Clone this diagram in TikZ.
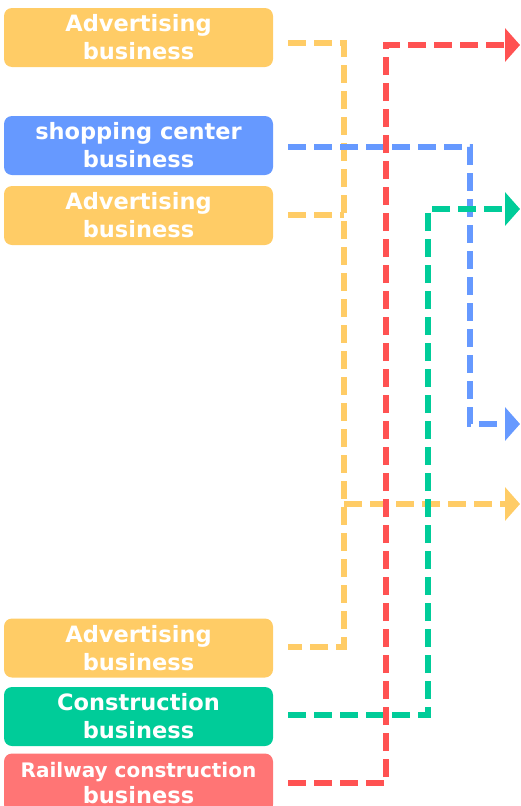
\documentclass[tikz,border=0pt]{standalone}
\usepackage{fontspec}
\setmainfont{DejaVu Sans}
\usetikzlibrary{arrows.meta}
\definecolor{adyellow}{HTML}{FFCC66}
\definecolor{shopblue}{HTML}{6699FF}
\definecolor{buildgreen}{HTML}{00CC99}
\definecolor{railbox}{HTML}{FF7575}
\definecolor{railline}{HTML}{FF5252}
\tikzset{
  biz/.style={rounded corners=8pt,minimum width=269pt,minimum height=59pt,text=white,
    align=center,font=\fontsize{22.5}{28}\selectfont\bfseries,inner sep=0pt},
  link/.style={line width=6pt,dash pattern=on 18pt off 8pt},
  tip/.style={-{Triangle[length=15pt,width=33pt]}}
}
\begin{document}
\begin{tikzpicture}[x=1pt,y=-1pt]
      \useasboundingbox (0,0) rectangle (520,806);
      \node[biz,fill=adyellow] (ad1) at (138.5,37.5) {Advertising\\business};
      \node[biz,fill=shopblue] (shop) at (138.5,145.5) {shopping center\\business};
      \node[biz,fill=adyellow] (ad2) at (138.5,215.5) {Advertising\\business};
      \node[biz,fill=adyellow] (ad3) at (138.5,648) {Advertising\\business};
      \node[biz,fill=buildgreen] (build) at (138.5,716.5) {Construction\\business};
      \node[biz,fill=railbox,font=\fontsize{20}{26}\selectfont\bfseries] (rail) at (138.5,783)
        {Railway construction\\{\fontsize{22.5}{26}\selectfont business}};
      \coordinate (ad1out) at (288,43);
      \coordinate (ad2out) at (288,215);
      \coordinate (ad3out) at (288,647);
      \coordinate (shopout) at (288,147);
      \coordinate (buildout) at (288,715);
      \coordinate (railout) at (288,783);
      \coordinate (adturn) at (344,504);
      \coordinate (tiprail) at (520,45);
      \coordinate (tipbuild) at (520,209);
      \coordinate (tipshop) at (520,424);
      \coordinate (tipad) at (520,504);
      \draw[link,adyellow] (ad1out) -| (ad3out -| adturn) -- (ad3out);
      \draw[link,adyellow] (ad2out) -- (ad2out -| adturn);
      \draw[link,adyellow,tip] (adturn) -- (tipad);
      \draw[link,shopblue,tip] (shopout) -| (470,424) -- (tipshop);
      \draw[link,buildgreen,tip] (buildout) -| (428,209) -- (tipbuild);
      \draw[link,railline,tip] (railout) -| (386,45) -- (tiprail);
\end{tikzpicture}
\end{document}
